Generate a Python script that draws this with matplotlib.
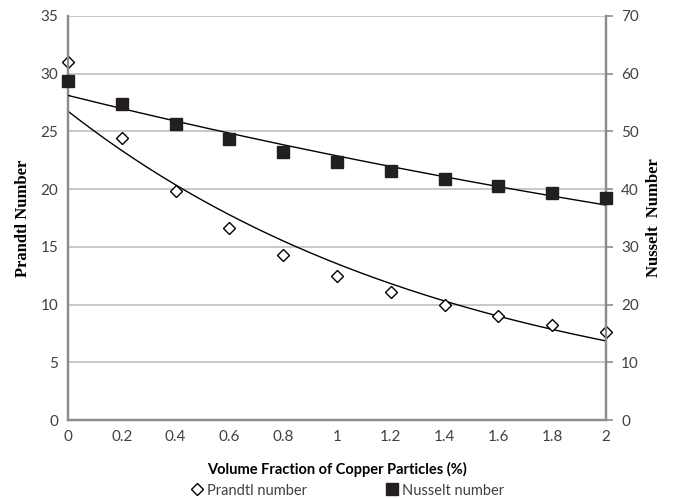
import matplotlib.pyplot as plt
import numpy as np
from matplotlib.lines import Line2D

# volume fraction of copper particles (%)
phi = [0, 0.2, 0.4, 0.6, 0.8, 1.0, 1.2, 1.4, 1.6, 1.8, 2.0]
prandtl = [31.0, 24.4, 19.8, 16.6, 14.3, 12.5, 11.1, 10.0, 9.05, 8.25, 7.6]
nusselt = [58.8, 54.7, 51.3, 48.7, 46.5, 44.7, 43.1, 41.8, 40.5, 39.4, 38.4]
xticklab = ['0', '0.2', '0.4', '0.6', '0.8', '1', '1.2', '1.4', '1.6', '1.8', '2']

grid_c = '#c0c0c0'
axis_c = '#8c8c8c'
text_c = '#404040'
sans = ['Lato', 'DejaVu Sans']
serif = 'Liberation Serif'

x = np.array(phi)
xs = np.linspace(0, 2, 200)

# exponential trend lines (least squares on log values)
bp, ap = np.polyfit(x, np.log(prandtl), 1)
bn, an = np.polyfit(x, np.log(nusselt), 1)

fig = plt.figure(figsize=(6.76, 4.99), dpi=100)
ax = fig.add_axes([0.1006, 0.1583, 0.7958, 0.8097])
ax2 = ax.twinx()

ax.set_xlim(0, 2)
ax.set_ylim(0, 35)
ax2.set_ylim(0, 70)
ax.set_yticks(np.arange(0, 36, 5))
ax2.set_yticks(np.arange(0, 71, 10))
ax.set_xticks(phi)
ax.set_xticklabels(xticklab)

ax.grid(axis='y', color=grid_c, lw=1.2)
ax.set_axisbelow(True)

for a in (ax, ax2):
    a.spines['top'].set_visible(False)
    for s in ('left', 'right', 'bottom'):
        a.spines[s].set_color(axis_c)
        a.spines[s].set_linewidth(1.6)
ax.tick_params(axis='both', length=0, labelsize=11, labelcolor=text_c, pad=7)
ax2.tick_params(axis='y', length=5, width=1.2, color=axis_c, labelsize=11,
                labelcolor=text_c, pad=6)
for lab in ax.get_xticklabels() + ax.get_yticklabels() + ax2.get_yticklabels():
    lab.set_family(sans)

ax.plot(xs, np.exp(ap + bp * xs), color='black', lw=1.0, zorder=3)
ax.plot(x, prandtl, ls='none', marker='D', ms=6, mfc='white', mec='black',
        mew=1.0, clip_on=False, zorder=4)
ax2.plot(xs, np.exp(an + bn * xs), color='black', lw=1.0, zorder=3)
ax2.plot(x, nusselt, ls='none', marker='s', ms=9, mfc='#231f20', mec='#231f20',
         clip_on=False, zorder=4)

ax.set_ylabel('Prandtl Number', family=serif, fontweight='bold', fontsize=12,
              color='black', labelpad=7)
ax2.set_ylabel('Nusselt  Number', family=serif, fontweight='bold', fontsize=12,
               color='black', labelpad=5, rotation=90)
ax.set_xlabel('Volume Fraction of Copper Particles (%)', family=sans,
              fontweight='bold', fontsize=10.5, color='black', labelpad=13)

handles = [
    Line2D([], [], ls='none', marker='D', ms=6, mfc='white', mec='black', mew=1.0),
    Line2D([], [], ls='none', marker='s', ms=8.5, mfc='#231f20', mec='#231f20'),
]
fig.legend(handles, ['Prandtl number', 'Nusselt number'], loc='center',
           bbox_to_anchor=(0.515, 0.017), ncol=2, frameon=False,
           handlelength=0.7, handletextpad=0.3, columnspacing=5.5,
           prop={'family': sans, 'size': 10.5}, labelcolor=text_c)

fig.savefig('out.png', dpi=100)
